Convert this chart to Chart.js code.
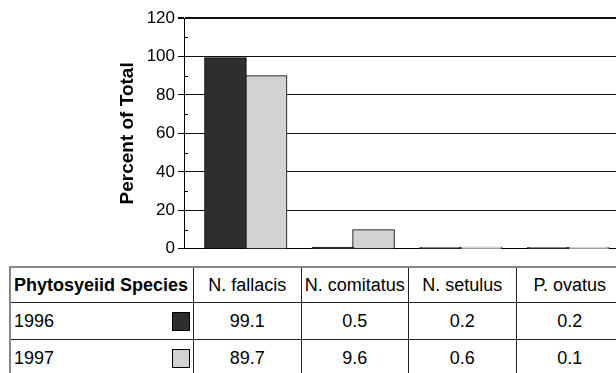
<!DOCTYPE html>
<html>
<head>
<meta charset="utf-8">
<script src="https://cdn.jsdelivr.net/npm/chart.js@4"></script>
<style>
  html, body { margin: 0; padding: 0; background: #fff; overflow: hidden; }
  #wrap { position: relative; width: 640px; height: 373px; }
  #chart-box { position: absolute; left: 0; top: 0; width: 640px; height: 262px; }
  #data-table {
    position: absolute; top: 266px; left: 9px;
    display: grid;
    border-top: 2px solid #888; border-left: 2px solid #888;
    font-family: "Liberation Sans", Arial, sans-serif; font-size: 18px; color: #000;
  }
  #data-table div {
    box-sizing: border-box; border-right: 1px solid #222; border-bottom: 1px solid #222;
    display: flex; align-items: center; justify-content: center; white-space: nowrap;
  }
  #data-table div.head { justify-content: flex-start; padding-left: 3px; font-weight: bold; }
  #data-table div.year { justify-content: space-between; padding: 0 3px 0 3px; }
  .key { display: inline-block; width: 16px; height: 17px; border: 1px solid #000; }
</style>
</head>
<body>
<div id="wrap">
  <div id="chart-box"><canvas id="species-chart"></canvas></div>
  <div id="data-table"></div>
</div>
<script>
// Phytoseiid species composition, 1996 vs 1997
const species = ['N. fallacis', 'N. comitatus', 'N. setulus', 'P. ovatus'];
const years = ['1996', '1997'];
const values1996 = [99.1, 0.5, 0.2, 0.2];
const values1997 = [89.7, 9.6, 0.6, 0.1];
const yTicks = [0, 20, 40, 60, 80, 100, 120];
const yMinorTicks = [10, 30, 50, 70, 90, 110];
const barColors = ['#2e2e2e', '#d2d2d2'];

const FONT = '"Liberation Sans", Arial, sans-serif';

// category band starts a bit right of the value axis, like the original
const categoryShift = {
    id: 'categoryShift',
    afterLayout(chart) {
        const xs = chart.scales.x;
        xs._startPixel = xs.left + 8;
        xs._endPixel = xs.right;
        xs._length = xs._endPixel - xs._startPixel;
    }
};

const minorTicks = {
    id: 'minorTicks',
    afterDraw(chart) {
        const ctx = chart.ctx;
        const ys = chart.scales.y;
        const left = chart.chartArea.left;
        ctx.save();
        ctx.strokeStyle = '#000';
        ctx.lineWidth = 1;
        yMinorTicks.forEach(v => {
            const y = Math.round(ys.getPixelForValue(v)) + 0.5;
            ctx.beginPath();
            ctx.moveTo(left, y);
            ctx.lineTo(left + 4, y);
            ctx.stroke();
        });
        ctx.restore();
    }
};

const chart = new Chart(document.getElementById('species-chart'), {
    type: 'bar',
    data: {
        labels: species,
        datasets: [
            { label: years[0], data: values1996, backgroundColor: barColors[0] },
            { label: years[1], data: values1997, backgroundColor: barColors[1] }
        ]
    },
    options: {
        responsive: true,
        maintainAspectRatio: false,
        animation: false,
        events: [],
        layout: { padding: { left: 0, top: 18, right: 18, bottom: 12 } },
        datasets: {
            bar: {
                borderColor: '#000',
                borderWidth: 1,
                borderSkipped: false,
                inflateAmount: 1,
                categoryPercentage: 0.755,
                barPercentage: 1
            }
        },
        plugins: {
            legend: { display: false },
            tooltip: { enabled: false },
            title: { display: false }
        },
        scales: {
            x: {
                ticks: { display: false },
                grid: { display: false },
                border: { display: true, color: '#000', width: 1 },
                afterFit: (s) => { s.height = 0; }
            },
            y: {
                min: 0,
                max: 120,
                afterBuildTicks: (s) => { s.ticks = yTicks.map(v => ({ value: v })); },
                afterFit: (s) => { s.width = 184; },
                ticks: {
                    color: '#000',
                    padding: 3,
                    font: { family: FONT, size: 17 }
                },
                grid: {
                    color: '#111',
                    lineWidth: (c) => (c.tick && c.tick.value === 120 ? 2 : 1),
                    tickLength: 6,
                    tickColor: '#000'
                },
                border: { display: true, color: '#000', width: 1 },
                title: {
                    display: true,
                    text: 'Percent of Total',
                    color: '#000',
                    font: { family: FONT, size: 19, weight: 'bold' },
                    padding: { top: 116, bottom: 0 }
                }
            }
        }
    },
    plugins: [categoryShift, minorTicks]
});

// data table under the plot, columns follow the category bands
function buildTable() {
    const xs = chart.scales.x;
    const table = document.getElementById('data-table');
    const band = xs._length / species.length;
    const firstCol = xs._startPixel - 9;
    const cols = [firstCol].concat(species.map(() => band));
    table.style.gridTemplateColumns = cols.map(w => w.toFixed(1) + 'px').join(' ');
    table.style.gridTemplateRows = '35px 37px 37px';

    const cell = (html, cls) => {
        const d = document.createElement('div');
        if (cls) d.className = cls;
        d.innerHTML = html;
        table.appendChild(d);
    };
    cell('Phytosyeiid Species', 'head');
    species.forEach(s => cell(s));
    [values1996, values1997].forEach((vals, i) => {
        cell('<span>' + years[i] + '</span><span class="key" style="background:' + barColors[i] + '"></span>', 'year');
        vals.forEach(v => cell(v.toFixed(1)));
    });
}
buildTable();
</script>
</body>
</html>
